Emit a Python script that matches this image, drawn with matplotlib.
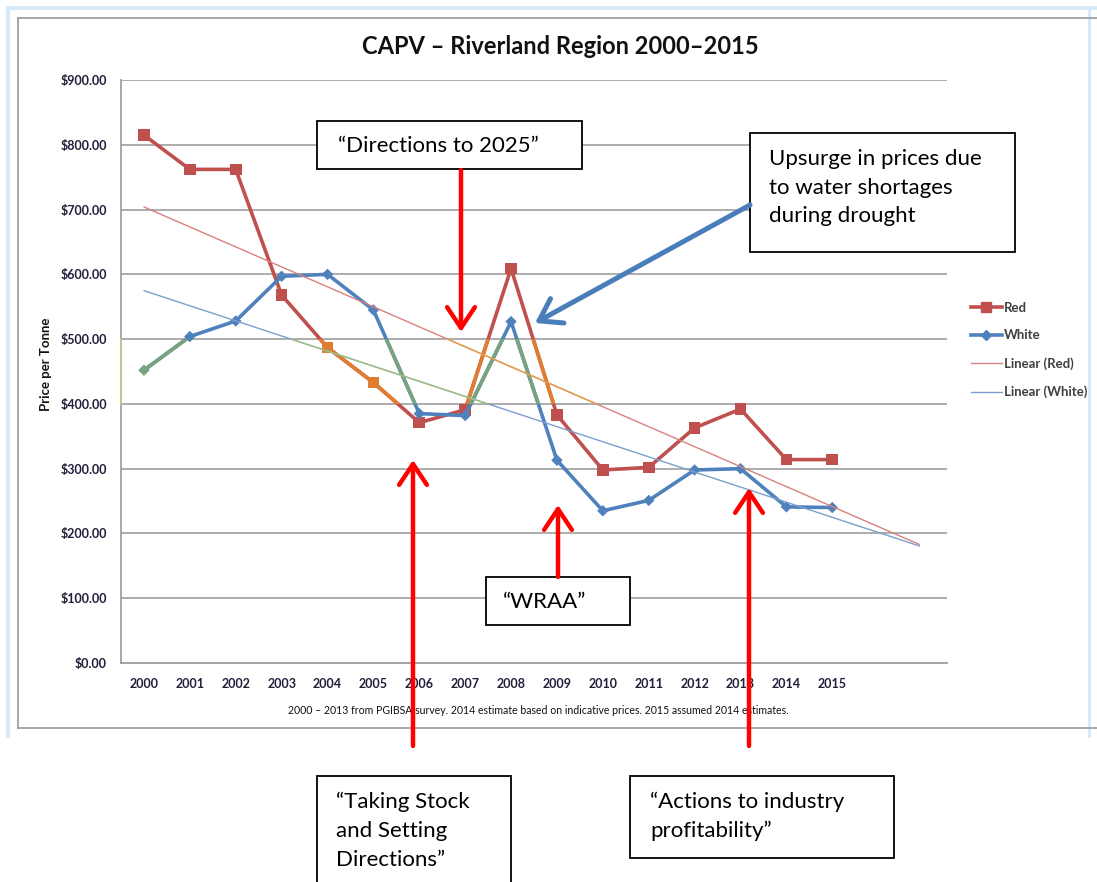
import matplotlib
matplotlib.use('Agg')
import matplotlib.pyplot as plt
import numpy as np
from matplotlib.patches import Rectangle
from matplotlib.lines import Line2D

# ---------------- data ----------------
years = ['2000', '2001', '2002', '2003', '2004', '2005', '2006', '2007',
         '2008', '2009', '2010', '2011', '2012', '2013', '2014', '2015']
red_prices = [815, 762, 762, 568, 487, 433, 371, 391, 609, 383, 298, 302, 363, 392, 314, 314]
white_prices = [452, 504, 528, 597, 600, 545, 385, 382, 527, 313, 235, 251, 298, 300, 241, 240]
y_ticks = [0, 100, 200, 300, 400, 500, 600, 700, 800, 900]
series_names = ['Red', 'White', 'Linear (Red)', 'Linear (White)']
title = 'CAPV \u2013 Riverland Region 2000\u20132015'
y_label = 'Price per Tonne'
footnote = ('2000 \u2013 2013 from PGIBSA survey. 2014 estimate based on indicative prices. '
            '2015 assumed 2014 estimates.')

# ---------------- style ----------------
W, H = 1097, 882
RED = '#c0504d'
BLUE = '#4f81bd'
ORANGE = '#e07d33'
GREEN = '#79a37c'
TREND_RED = '#d8817f'
TREND_BLUE = '#7b9fd0'
TREND_ORANGE = '#e3a24a'
TREND_GREEN = '#a3c27a'
GRID = '#a6a6a6'
FONT = 'Lato'
TICK_COLOR = '#1f1f3a'
BAND_LO, BAND_HI = 400, 500   # tinted band of the original screenshot

plt.rcParams['font.family'] = [FONT, 'DejaVu Sans']

fig = plt.figure(figsize=(W / 100, H / 100), dpi=100)

# background overlay (pixel coordinates) for frame
bg = fig.add_axes([0, 0, 1, 1], zorder=0)
bg.set_xlim(0, W)
bg.set_ylim(H, 0)
bg.axis('off')
lb = '#d6e9f8'
bg.add_patch(Rectangle((6, 6), 4, 732, color=lb, lw=0))
bg.add_patch(Rectangle((6, 6), W, 4, color=lb, lw=0))
bg.add_patch(Rectangle((1088, 6), 3, 732, color=lb, lw=0))
bg.plot([18, 18], [18, 728], color='#a0a0a0', lw=1.3)
bg.plot([18, W], [18, 18], color='#a0a0a0', lw=1.3)
bg.plot([18, W], [728, 728], color='#a0a0a0', lw=1.3)

# ---------------- main chart ----------------
ax = fig.add_axes([121 / W, 1 - 663 / H, (947 - 121) / W, (663 - 80) / H], zorder=5)
ax.patch.set_alpha(0)
x = np.arange(len(years))
ax.set_xlim(-0.5, 17.5)
ax.set_ylim(0, 900)
ax.set_yticks(y_ticks)
ax.set_yticklabels(['${:,.2f}'.format(v) for v in y_ticks])
ax.set_xticks(x)
ax.set_xticklabels(years)
ax.yaxis.grid(True, color=GRID, lw=1.3)
ax.set_axisbelow(True)
ax.tick_params(length=0, labelsize=9, colors=TICK_COLOR)
ax.tick_params(axis='y', pad=10)
ax.tick_params(axis='x', pad=11)
for lab in ax.get_xticklabels() + ax.get_yticklabels():
    lab.set_fontweight('bold')
for s in ['top', 'right']:
    ax.spines[s].set_visible(False)
for s in ['left', 'bottom']:
    ax.spines[s].set_color('#a0a0a0')
    ax.spines[s].set_linewidth(1.3)

# trend lines
x_trend = np.array([0, 16.9])
red_fit = np.polyfit(x, red_prices, 1)
white_fit = np.polyfit(x, white_prices, 1)
red_trend = np.polyval(red_fit, x_trend)
white_trend = np.polyval(white_fit, x_trend)

band = Rectangle((-0.5, BAND_LO), 18, BAND_HI - BAND_LO, transform=ax.transData)


def draw_line(color_main, color_tint, xs, ys, lw, z):
    ax.plot(xs, ys, color=color_main, lw=lw, zorder=z, solid_capstyle='round')
    l2, = ax.plot(xs, ys, color=color_tint, lw=lw, zorder=z + 0.1, solid_capstyle='round')
    l2.set_clip_path(band)


def draw_markers(color_main, color_tint, xs, ys, marker, size, z):
    ys = np.asarray(ys)
    inside = (ys >= BAND_LO) & (ys <= BAND_HI)
    cols = [color_tint if f else color_main for f in inside]
    ax.scatter(xs, ys, c=cols, marker=marker, s=size, zorder=z, linewidths=0)


draw_line(RED, ORANGE, x, red_prices, 2.6, 3)
draw_markers(RED, ORANGE, x, red_prices, 's', 70, 3.5)
draw_line(BLUE, GREEN, x, white_prices, 2.6, 4)
draw_markers(BLUE, GREEN, x, white_prices, 'D', 34, 4.5)
draw_line(TREND_RED, TREND_ORANGE, x_trend, red_trend, 1.0, 5)
draw_line(TREND_BLUE, TREND_GREEN, x_trend, white_trend, 1.0, 5)
ax.plot([-0.5, -0.5], [BAND_LO, BAND_HI], color='#c9c98e', lw=1.3, zorder=6, clip_on=False)

# title, labels, footnote
fig.text(560 / W, 1 - 46 / H, title, ha='center', va='center', fontsize=17,
         fontweight='bold', color='#111111')
fig.text(46 / W, 1 - 364 / H, y_label, rotation=90, ha='center', va='center',
         fontsize=9.5, fontweight='bold', color='#111111')
fig.text(538 / W, 1 - 710 / H, footnote, ha='center', va='center', fontsize=7.6,
         color='#111111')

# legend
handles = [Line2D([], [], color=RED, lw=2.6, marker='s', ms=7),
           Line2D([], [], color=BLUE, lw=2.6, marker='D', ms=5),
           Line2D([], [], color=TREND_RED, lw=1.0),
           Line2D([], [], color=TREND_BLUE, lw=1.0)]
leg = fig.legend(handles, series_names, loc='upper left',
                 bbox_to_anchor=(964 / W, 1 - 295 / H), frameon=False,
                 fontsize=9.5, handlelength=2.4, handletextpad=0.1, labelspacing=1.2,
                 borderpad=0)
for t in leg.get_texts():
    t.set_color('#404040')
    t.set_fontweight('bold')

# ---------------- annotations overlay ----------------
ov = fig.add_axes([0, 0, 1, 1], zorder=10)
ov.set_xlim(0, W)
ov.set_ylim(H, 0)
ov.axis('off')
ov.patch.set_alpha(0)

TXT = dict(fontsize=16, color='black', family=FONT)


def box(x0, y0, x1, y1):
    ov.add_patch(Rectangle((x0, y0), x1 - x0, y1 - y0, facecolor='white',
                           edgecolor='black', lw=1.3, zorder=2))


def arrow(x0, y0, x1, y1, color, lw):
    ov.annotate('', xy=(x1, y1), xytext=(x0, y0),
                arrowprops=dict(arrowstyle='->,head_length=0.75,head_width=0.5',
                                color=color, lw=lw, mutation_scale=20,
                                shrinkA=0, shrinkB=0), zorder=3)


box(317, 121, 582, 169)
ov.text(338, 146, '\u201cDirections to 2025\u201d', va='center', ha='left', zorder=4, **TXT)

box(750, 133, 1015, 252)
ov.text(769, 159, 'Upsurge in prices due', va='center', ha='left', zorder=4, **TXT)
ov.text(769, 188, 'to water shortages', va='center', ha='left', zorder=4, **TXT)
ov.text(769, 216, 'during drought', va='center', ha='left', zorder=4, **TXT)

box(486, 577, 630, 625)
ov.text(503, 602, '\u201cWRAA\u201d', va='center', ha='left', zorder=4, **TXT)

box(317, 776, 511, 900)
ov.text(336, 802, '\u201cTaking Stock', va='center', ha='left', zorder=4, **TXT)
ov.text(336, 831, 'and Setting', va='center', ha='left', zorder=4, **TXT)
ov.text(336, 860, 'Directions\u201d', va='center', ha='left', zorder=4, **TXT)

box(630, 776, 894, 858)
ov.text(650, 802, '\u201cActions to industry', va='center', ha='left', zorder=4, **TXT)
ov.text(650, 831, 'profitability\u201d', va='center', ha='left', zorder=4, **TXT)

arrow(461, 170, 461, 332, '#ff0000', 3.2)
arrow(413, 746, 413, 460, '#ff0000', 3.2)
arrow(749, 746, 749, 488, '#ff0000', 3.2)
arrow(558, 577, 558, 505, '#ff0000', 3.2)
arrow(750, 205, 535, 323, '#4a7ebb', 3.6)

fig.savefig('out.png', dpi=100)
